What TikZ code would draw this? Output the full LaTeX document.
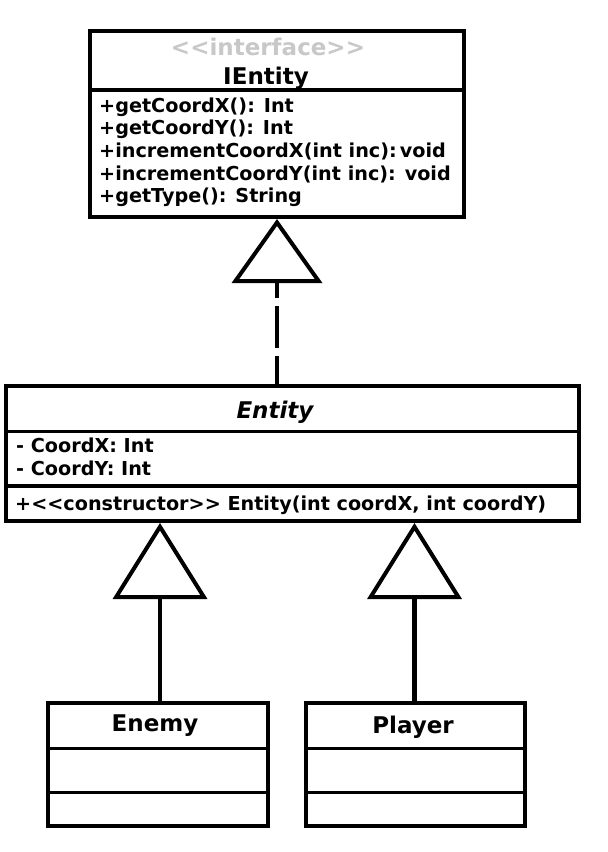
\documentclass[tikz,border=0pt]{standalone}
\usepackage{fontspec}
\setmainfont{DejaVu Sans}
\usetikzlibrary{arrows.meta}
\definecolor{stereo}{RGB}{200,200,200}
\newcommand\umllt{<\kern0pt<}
\newcommand\umlgt{>\kern0pt>}
\tikzset{
  classbox/.style={draw, line width=4pt, rectangle, inner sep=0pt},
  sepline/.style={line width=3.5pt},
  title/.style={anchor=base, inner sep=0pt, font=\fontsize{23}{27}\selectfont\bfseries},
  member/.style={anchor=base west, inner sep=0pt, font=\fontsize{19.2}{22}\selectfont\bfseries},
  inherit/.style={line width=4.5pt, -{Triangle[open, length=64pt, width=90pt, line width=4pt]}},
  inheritb/.style={line width=4.5pt, -{Triangle[open, length=76pt, width=94pt, line width=4pt]}},
}
\begin{document}
\begin{tikzpicture}[x=1pt, y=-1pt]
\useasboundingbox (0,0) rectangle (608,852);
\fill[white] (0,0) rectangle (608,852);

% IEntity
\node[classbox, minimum width=374pt, minimum height=186pt] (ientity) at (277,124) {};
\draw[sepline] (90,90) -- (464,90);
\node[title, text=stereo] (stereo) at (268,55) {\umllt interface\umlgt};
\node[title] (ientitytitle) at (266,84) {IEntity};
\node[member] (m1) at (99,112) {+getCoordX(): Int};
\node[member] (m2) at (99,134.7) {+getCoordY(): Int};
\node[member] (m3) at (99,157.4) {+incrementCoordX(int inc):\,void};
\node[member] (m4) at (99,180.1) {+incrementCoordY(int inc): void};
\node[member] (m5) at (99,202.8) {+getType(): String};

% Entity
\node[classbox, minimum width=573pt, minimum height=135pt] (entity) at (292.5,453.5) {};
\draw[sepline] (6,431.5) -- (579,431.5);
\draw[sepline] (6,486) -- (579,486);
\node[title, font=\fontsize{23}{27}\selectfont\bfseries\itshape] (entitytitle) at (275,418) {Entity};
\node[member] (a1) at (16,452.5) {- CoordX: Int};
\node[member] (a2) at (16,475.5) {- CoordY: Int};
\node[member] (c1) at (15,510) {+\umllt constructor\umlgt{} Entity(int coordX, int coordY)};

% Enemy
\node[classbox, minimum width=220pt, minimum height=123pt] (enemy) at (158,764.5) {};
\draw[line width=3pt] (48,748) -- (268,748);
\draw[line width=3pt] (48,792) -- (268,792);
\node[title] (enemytitle) at (155,731) {Enemy};

% Player
\node[classbox, minimum width=219pt, minimum height=123pt] (player) at (415.5,764.5) {};
\draw[line width=3pt] (306,748) -- (525,748);
\draw[line width=3pt] (306,792) -- (525,792);
\node[title] (playertitle) at (413,733) {Player};

% connectors
\draw[inherit, dash pattern=on 42pt off 8pt, dash phase=14pt] (entity.north -| ientity.south) -- (ientity.south);
\draw[inheritb] ([xshift=2pt]enemy.north) -- ([xshift=2pt]enemy.north |- entity.south);
\draw[inheritb] ([xshift=-1pt]player.north) -- ([xshift=-1pt]player.north |- entity.south);
\end{tikzpicture}
\end{document}
